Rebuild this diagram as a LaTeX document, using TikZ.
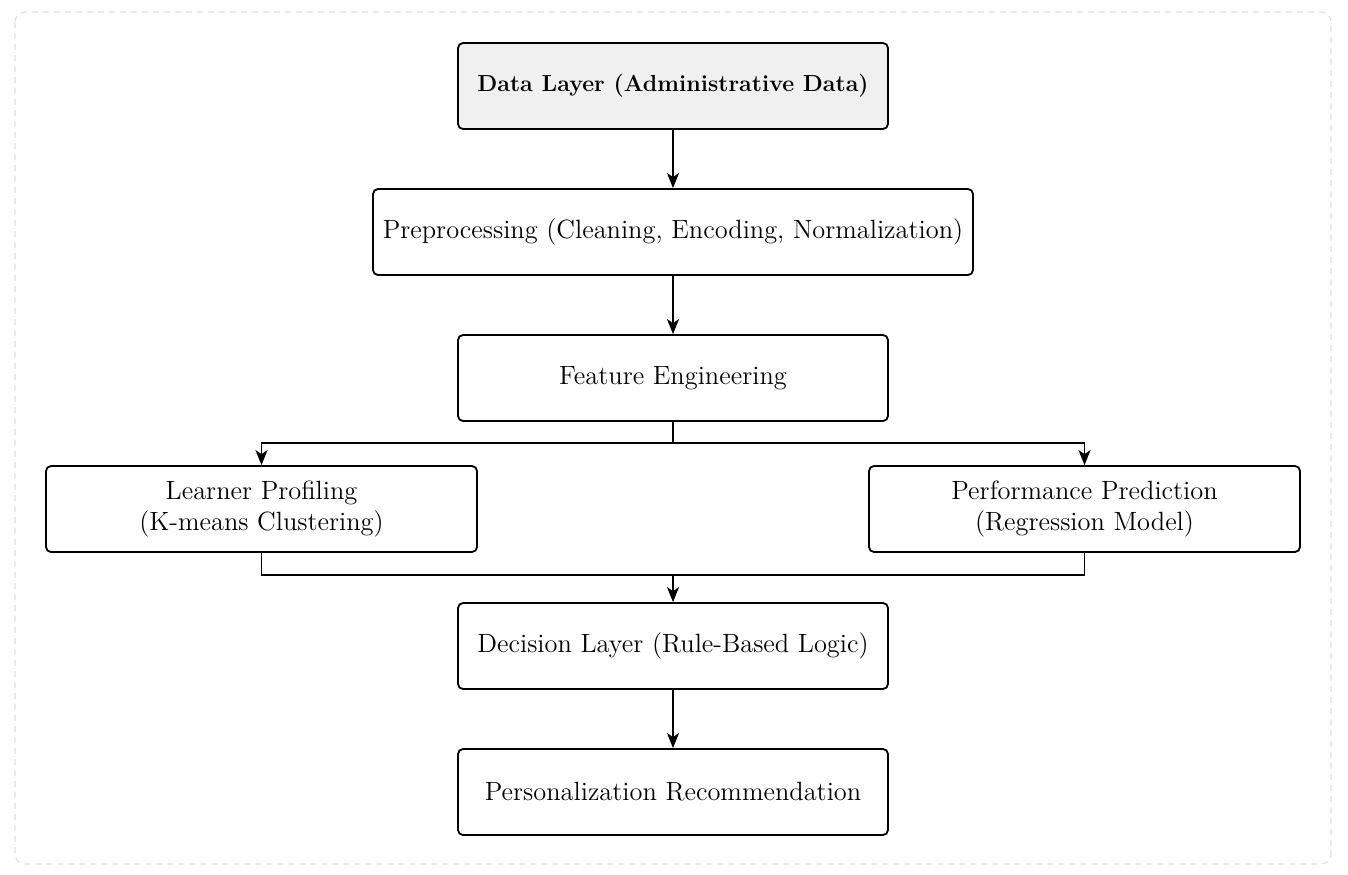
\documentclass[tikz,border=0pt]{standalone}
\usetikzlibrary{arrows.meta}
\begin{document}
\begin{tikzpicture}[x=0.5pt,y=-0.5pt,
  box/.style={draw, line width=0.9pt, rounded corners=2.5pt, minimum width=215pt, minimum height=43pt, align=center, inner sep=2pt, font=\fontsize{13.2}{15.5}\selectfont},
  conn/.style={line width=0.9pt},
  arr/.style={conn, -{Stealth[length=7.5pt,width=6pt,inset=2pt]}}]
\useasboundingbox (0,0) rectangle (1348,874);
\draw[gray!25, line width=0.6pt, dash pattern=on 3pt off 2.5pt, rounded corners=5pt] (15,12) rectangle (1331,864);
\node[box, fill=black!6, font=\fontsize{11.6}{15.5}\selectfont\bfseries] (data) at (673,86) {Data Layer (Administrative Data)};
\node[box, minimum width=300pt] (pre) at (673,232) {Preprocessing (Cleaning, Encoding, Normalization)};
\node[box] (fe) at (673,378) {Feature Engineering};
\node[box, minimum width=215.5pt] (lp) at (261.5,509) {Learner Profiling\\(K-means Clustering)};
\node[box, minimum width=215.5pt] (pp) at (1084.5,509) {Performance Prediction\\(Regression Model)};
\node[box] (dl) at (673,646) {Decision Layer (Rule-Based Logic)};
\node[box] (pr) at (673,792) {Personalization Recommendation};
\coordinate (split) at (673,443);
\coordinate (merge) at (673,575);
\draw[arr] (data) -- (pre);
\draw[arr] (pre) -- (fe);
\draw[conn] (fe) -- (split);
\draw[arr] (split) -| (lp);
\draw[arr] (split) -| (pp);
\draw[conn] (lp.south) |- (merge) -| (pp.south);
\draw[arr] (merge) -- (dl);
\draw[arr] (dl) -- (pr);
\end{tikzpicture}
\end{document}
